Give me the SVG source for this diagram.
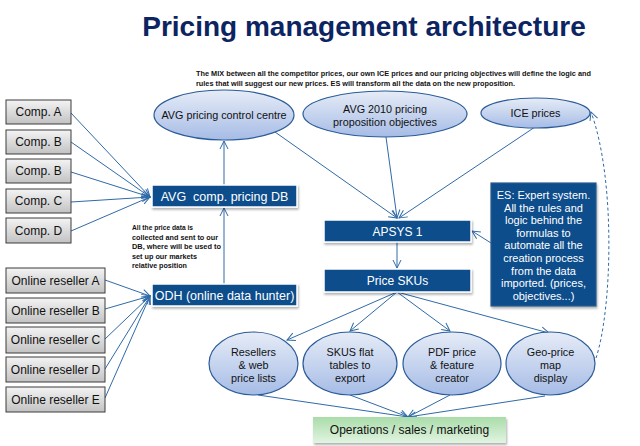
<svg xmlns="http://www.w3.org/2000/svg" width="640" height="446" viewBox="0 0 640 446">
<style>
text{font-family:"Liberation Sans",Arial,sans-serif;}
.title{font-size:28px;font-weight:bold;fill:#0c2461;}
.cap{font-size:8px;font-weight:bold;fill:#111;}
.gray rect{fill:url(#gGray);stroke:#3c3c3c;stroke-width:1;}
.gray text{font-size:12px;fill:#111;text-anchor:middle;}
.dark rect{fill:#0f4d8c;stroke:#fff;stroke-width:1.5;filter:url(#sh);}
.dark text{font-size:12.5px;fill:#fff;text-anchor:middle;white-space:pre;}
.ell ellipse{fill:url(#gBlue);stroke:#2a5b98;stroke-width:1.2;}
.ell text{font-size:10.8px;fill:#111;text-anchor:middle;}
.conn path{fill:none;stroke:#2f6aa8;stroke-width:1;marker-end:url(#arr);}
</style>
<defs>
<linearGradient id="gGray" x1="0" y1="0" x2="0" y2="1"><stop offset="0" stop-color="#f4f4f4"/><stop offset="1" stop-color="#c2c2c2"/></linearGradient>
<linearGradient id="gBlue" x1="0" y1="0" x2="0" y2="1"><stop offset="0" stop-color="#e6ecf7"/><stop offset="1" stop-color="#a6bce6"/></linearGradient>
<linearGradient id="gGreen" x1="0" y1="0" x2="0" y2="1"><stop offset="0" stop-color="#a9dca9"/><stop offset="1" stop-color="#e2f4e2"/></linearGradient>
<filter id="sh" x="-10%" y="-20%" width="120%" height="150%"><feDropShadow dx="1" dy="2" stdDeviation="1.2" flood-color="#000" flood-opacity="0.3"/></filter>
<marker id="arr" markerUnits="userSpaceOnUse" markerWidth="12" markerHeight="12" refX="9" refY="5" orient="auto" viewBox="0 0 12 10"><path d="M1,1 L9,5 L1,9" fill="none" stroke="#2f6aa8" stroke-width="1"/></marker>
</defs>
<rect width="640" height="446" fill="#fff"/>
<text class="title" x="364" y="36" text-anchor="middle">Pricing management architecture</text>
<g id="caption">
<text class="cap" x="196" y="76" textLength="395" lengthAdjust="spacingAndGlyphs">The MIX between all the competitor prices, our own ICE prices and our pricing objectives will define the logic and</text>
<text class="cap" x="196" y="86" textLength="319" lengthAdjust="spacingAndGlyphs">rules that will suggest our new prices. ES will  transform all the data on the new proposition.</text>
</g>
<g id="note">
<text class="cap" x="132" y="230" textLength="61" lengthAdjust="spacingAndGlyphs">All the price data is</text>
<text class="cap" x="132" y="240" textLength="86" lengthAdjust="spacingAndGlyphs">collected and sent to our</text>
<text class="cap" x="132" y="249" textLength="89" lengthAdjust="spacingAndGlyphs">DB, where will be used to</text>
<text class="cap" x="132" y="259" textLength="65" lengthAdjust="spacingAndGlyphs">set up our markets</text>
<text class="cap" x="132" y="268" textLength="55" lengthAdjust="spacingAndGlyphs">relative position</text>
</g>
<g id="connectors" class="conn">
<path d="M71,113 L150,197"/>
<path d="M71,142 L150,197"/>
<path d="M71,172 L150,197"/>
<path d="M71,202 L150,197"/>
<path d="M71,231 L150,197"/>
<path d="M105,280 L150,296"/>
<path d="M105,309 L150,296"/>
<path d="M105,339 L150,296"/>
<path d="M105,369 L150,296"/>
<path d="M105,398 L150,296"/>
<path d="M224,185 L224,141"/>
<path d="M224,284 L224,208"/>
<path d="M275,132 L397,218"/>
<path d="M386,137 L397,218"/>
<path d="M535,127 L399,218"/>
<path d="M397,242 L397,268"/>
<path d="M491,243 L472,231"/>
<path d="M397,292 L287,340"/>
<path d="M397,292 L350,331"/>
<path d="M397,292 L450,331"/>
<path d="M397,292 L549,333"/>
<path d="M258,395 L408,417"/>
<path d="M350,395 L408,417"/>
<path d="M450,395 L408,417"/>
<path d="M545,396 L408,417"/>
<path d="M596,358 C612,310 616,180 591,112" stroke-dasharray="3,2.5"/>
</g>
<g id="compA" class="gray"><rect x="6" y="100" width="65" height="24"/><text x="38.5" y="116">Comp. A</text></g>
<g id="compB1" class="gray"><rect x="6" y="130" width="65" height="24"/><text x="38.5" y="146">Comp. B</text></g>
<g id="compB2" class="gray"><rect x="6" y="159" width="65" height="24"/><text x="38.5" y="175">Comp. B</text></g>
<g id="compC" class="gray"><rect x="6" y="189" width="65" height="24"/><text x="38.5" y="205">Comp. C</text></g>
<g id="compD" class="gray"><rect x="6" y="218" width="65" height="25"/><text x="38.5" y="235">Comp. D</text></g>
<g id="resA" class="gray"><rect x="6" y="268" width="99" height="25"/><text x="55.5" y="285">Online reseller A</text></g>
<g id="resB" class="gray"><rect x="6" y="298" width="99" height="25"/><text x="55.5" y="315">Online reseller B</text></g>
<g id="resC" class="gray"><rect x="6" y="327" width="99" height="26"/><text x="55.5" y="344">Online reseller C</text></g>
<g id="resD" class="gray"><rect x="6" y="357" width="99" height="25"/><text x="55.5" y="374">Online reseller D</text></g>
<g id="resE" class="gray"><rect x="6" y="387" width="99" height="25"/><text x="55.5" y="404">Online reseller E</text></g>
<g id="avgdb" class="dark"><rect x="152" y="185" width="145" height="22"/><text x="224.5" y="201">AVG  comp. pricing DB</text></g>
<g id="odh" class="dark"><rect x="152" y="284" width="145" height="22"/><text x="224.5" y="300">ODH (online data hunter)</text></g>
<g id="apsys" class="dark"><rect x="324" y="220" width="147" height="22"/><text x="397.5" y="236" style="font-size:12px">APSYS 1</text></g>
<g id="skus" class="dark"><rect x="324" y="269" width="147" height="23"/><text x="397.5" y="285" style="font-size:12px">Price SKUs</text></g>
<g id="es" class="dark"><rect x="491" y="183" width="105" height="123" style="stroke:#2b5a8e;stroke-width:1.2"/>
<text x="543.5" style="font-size:11px"><tspan x="543.5" y="199">ES: Expert system.</tspan><tspan x="543.5" y="211.6">All the rules and</tspan><tspan x="543.5" y="224.2">logic behind the</tspan><tspan x="543.5" y="236.8">formulas to</tspan><tspan x="543.5" y="249.4">automate all the</tspan><tspan x="543.5" y="262">creation process</tspan><tspan x="543.5" y="274.6">from the data</tspan><tspan x="543.5" y="287.2">imported. (prices,</tspan><tspan x="543.5" y="299.8">objectives...)</tspan></text></g>
<g id="ctrl" class="ell"><ellipse cx="224" cy="115" rx="70" ry="25"/><text x="224" y="119">AVG pricing control centre</text></g>
<g id="obj" class="ell"><ellipse cx="385" cy="114" rx="82" ry="23"/><text x="385" y="113">AVG 2010 pricing</text><text x="385" y="126">proposition objectives</text></g>
<g id="ice" class="ell"><ellipse cx="535.5" cy="113" rx="54.5" ry="15"/><text x="535.5" y="117">ICE prices</text></g>
<g id="resweb" class="ell"><ellipse cx="253.5" cy="363.5" rx="44.5" ry="31.5"/><text x="253.5" y="356">Resellers</text><text x="253.5" y="369">&amp; web</text><text x="253.5" y="382">price lists</text></g>
<g id="flat" class="ell"><ellipse cx="350" cy="363.5" rx="47" ry="31.5"/><text x="350" y="356">SKUS flat</text><text x="350" y="369">tables to</text><text x="350" y="382">export</text></g>
<g id="pdf" class="ell"><ellipse cx="452" cy="363.5" rx="49" ry="31.5"/><text x="452" y="356">PDF price</text><text x="452" y="369">&amp; feature</text><text x="452" y="382">creator</text></g>
<g id="geo" class="ell"><ellipse cx="550.5" cy="363.5" rx="44.5" ry="31.5"/><text x="550.5" y="356">Geo-price</text><text x="550.5" y="369">map</text><text x="550.5" y="382">display</text></g>
<g id="ops"><rect x="313" y="417" width="193" height="26" fill="url(#gGreen)" filter="url(#sh)"/><text x="409.5" y="434" style="font-size:12px;fill:#111;text-anchor:middle">Operations / sales / marketing</text></g>
</svg>
